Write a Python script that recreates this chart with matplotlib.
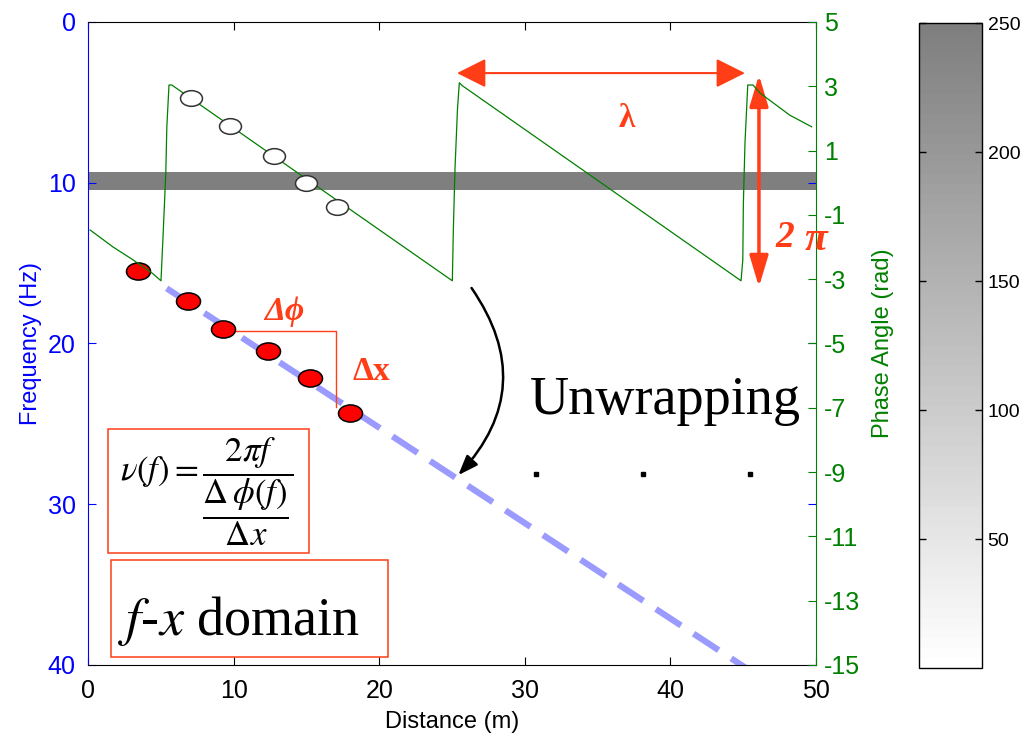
import numpy as np
import matplotlib
matplotlib.use('Agg')
from matplotlib import pyplot as plt
from matplotlib.colors import LinearSegmentedColormap, Normalize
from matplotlib.patches import FancyArrowPatch, Rectangle
from matplotlib.path import Path
from matplotlib.transforms import Affine2D

plt.rcParams['font.family'] = ['Liberation Sans', 'DejaVu Sans']
plt.rcParams['mathtext.fontset'] = 'stix'
plt.rcParams['axes.unicode_minus'] = False

# wrapped phase along the profile (right axis)
phase_dist = [0.14, 1.72, 3.09, 4.40, 5.01, 5.17, 5.34, 5.41, 5.56, 5.75,
              25.02, 25.09, 25.20, 25.37, 25.50, 25.70,
              44.85, 44.97, 45.01, 45.12, 45.31, 45.67, 46.15, 48.20, 49.70]
phase_rad = [-1.47, -2.00, -2.40, -2.81, -3.05, -1.47, 0.30, 1.73, 3.04, 3.04,
             -3.05, -1.47, 0.40, 2.26, 3.11, 3.02,
             -3.05, -2.40, -0.63, 1.24, 3.04, 3.04, 2.79, 2.10, 1.74]

# open circles sitting on the wrapped phase
open_dist = [7.05, 9.75, 12.77, 14.97, 17.08]
open_phase = [2.63, 1.77, 0.84, 0.00, -0.75]

# red picks in the f-x domain (left axis)
pick_dist = [3.41, 6.89, 9.25, 12.38, 15.25, 17.99]
pick_freq = [15.48, 17.36, 19.10, 20.45, 22.13, 24.35]

# unwrapped trend (dashed)
trend_dist = [5.40, 45.20]
trend_freq = [16.57, 40.20]

# dots after unwrapping
unwrap_dist = [30.77, 38.12, 45.47]
unwrap_freq = [28.15, 28.15, 28.15]

# amplitude band of the f-x image
band_dist_edges = [0, 50]
band_freq_edges = [9.33, 10.45]
band_value = [[250]]

freq_ticks = [0, 10, 20, 30, 40]
phase_ticks = [-15, -13, -11, -9, -7, -5, -3, -1, 1, 3, 5]
dist_ticks = [0, 10, 20, 30, 40, 50]
cbar_ticks = [50, 100, 150, 200, 250]

RED = '#ff3d17'
GREEN = '#008000'
SERIF = ['Liberation Serif', 'DejaVu Serif']

cmap = LinearSegmentedColormap.from_list('grays', ['#ffffff', '#7f7f7f'], N=64)
norm = Normalize(0, 250)

ellipse = Path.unit_circle().transformed(Affine2D().scale(1.4, 1.0))

fig = plt.figure(figsize=(10.31, 7.40), dpi=100)
ax = fig.add_axes([0.0854, 0.1014, 0.7061, 0.8689])

mesh = ax.pcolormesh(band_dist_edges, band_freq_edges, band_value, cmap=cmap, norm=norm)
ax.plot(trend_dist, trend_freq, color='#9b9bff', lw=4.5, dashes=(4.8, 2.4),
        dash_capstyle='butt', zorder=2)
ax.plot(pick_dist, pick_freq, ls='none', marker=ellipse, ms=17.3, mfc='red',
        mec='black', mew=1.1, zorder=3)
ax.plot(unwrap_dist, unwrap_freq, ls='none', marker='s', ms=2.2, color='black', zorder=3)

# delta phi / delta x step
ax.plot([10.1, 17.03, 17.03], [19.21, 19.21, 23.94], color=RED, lw=1.0, zorder=2)
ax.text(13.46, 17.98, 'Δϕ', family=SERIF, style='italic', weight='bold',
        fontsize=24, color=RED, ha='center', va='center')
ax.text(18.13, 22.28, 'Δx', family=SERIF, weight='bold',
        fontsize=24, color=RED, va='baseline')

ax.text(30.36, 24.39, 'Unwrapping', family=SERIF, fontsize=39, va='baseline')

ax.add_patch(Rectangle((1.37, 25.33), 13.81, 7.71, fill=False, ec=RED, lw=1.1, zorder=4))
ax.text(8.14, 29.2, r'$\nu(f) = \dfrac{2\pi f}{\dfrac{\Delta\,\phi(f)}{\Delta x}}$',
        fontsize=25, ha='center', va='center')
ax.add_patch(Rectangle((1.58, 33.48), 19.02, 6.03, fill=False, ec=RED, lw=1.1, zorder=4))
ax.text(2.06, 38.15, '$f$-$x$ domain', family=SERIF, fontsize=39, va='baseline')

ax.add_patch(FancyArrowPatch((26.34, 16.55), (25.43, 28.19), connectionstyle='arc3,rad=-0.4',
                             arrowstyle='-|>,head_length=0.8,head_width=0.3',
                             mutation_scale=15, lw=1.8, color='black',
                             shrinkA=0, shrinkB=0, zorder=5))

ax.set_xlim(0, 50)
ax.set_ylim(40, 0)
ax.set_xticks(dist_ticks)
ax.set_yticks(freq_ticks)
ax.set_xlabel('Distance (m)', fontsize=17, labelpad=6)
ax.set_ylabel('Frequency (Hz)', color='blue', fontsize=17, labelpad=4)

ax2 = ax.twinx()
ax2.plot(phase_dist, phase_rad, color=GREEN, lw=0.9)
ax2.plot(open_dist, open_phase, ls='none', marker=ellipse, ms=15.8, mfc='white',
         mec='#333333', mew=1.1)

ax2.add_patch(FancyArrowPatch((25.34, 3.41), (45.12, 3.41),
                              arrowstyle='<|-|>,head_length=1.0,head_width=0.5',
                              mutation_scale=18, lw=1.5, color=RED, shrinkA=0, shrinkB=0))
ax2.add_patch(FancyArrowPatch((46.08, 3.35), (46.08, -3.24),
                              arrowstyle='<|-|>,head_length=1.0,head_width=0.3',
                              mutation_scale=19, lw=2.5, color=RED, shrinkA=0, shrinkB=0))
ax2.text(37.02, 2.01, 'λ', family=SERIF, weight='bold', fontsize=24,
         color=RED, ha='center', va='center')
ax2.text(47.18, -2.0, '2', family=SERIF, style='italic', weight='bold',
         fontsize=27, color=RED, va='baseline')
ax2.text(49.25, -2.1, 'π', family=SERIF, style='italic', weight='bold',
         fontsize=30, color=RED, va='baseline')

ax2.set_ylim(-15, 5)
ax2.set_yticks(phase_ticks)
ax2.set_ylabel('Phase Angle (rad)', color=GREEN, fontsize=17, labelpad=8)

ax.tick_params(axis='y', colors='blue', direction='in', left=True, right=True,
               length=6, labelsize=18, pad=9)
ax.tick_params(axis='x', colors='black', direction='in', top=True, bottom=True,
               length=6, labelsize=18, pad=10)
ax2.tick_params(axis='y', colors=GREEN, direction='in', length=6, labelsize=18, pad=6)

ax.spines['left'].set_color('blue')
ax.spines['right'].set_visible(False)
for side in ['left', 'top', 'bottom']:
    ax2.spines[side].set_visible(False)
ax2.spines['right'].set_color(GREEN)

cax = fig.add_axes([0.8914, 0.0973, 0.0611, 0.8716])
cb = fig.colorbar(mesh, cax=cax, ticks=cbar_ticks)
cb.outline.set_linewidth(1.0)
cax.tick_params(direction='in', left=True, right=True, length=5, width=1,
                labelsize=14, pad=4)

fig.savefig('out.png', dpi=100)
